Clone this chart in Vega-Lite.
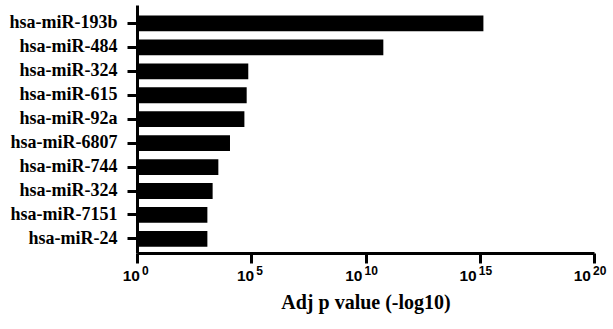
{
  "$schema": "https://vega.github.io/schema/vega-lite/v6.json",
  "autosize": {"type": "none"},
  "padding": {"left": 137, "top": 5, "right": 19, "bottom": 76},
  "width": 457,
  "height": 248,
  "background": "white",
  "datasets": {
    "bars": [
      {"name": "hsa-miR-193b", "value": 1.445e15},
      {"name": "hsa-miR-484", "value": 6.03e10},
      {"name": "hsa-miR-324", "value": 74130},
      {"name": "hsa-miR-615", "value": 63096},
      {"name": "hsa-miR-92a", "value": 50119},
      {"name": "hsa-miR-6807", "value": 11749},
      {"name": "hsa-miR-744", "value": 3631},
      {"name": "hsa-miR-324#2", "value": 2042},
      {"name": "hsa-miR-7151", "value": 1202},
      {"name": "hsa-miR-24", "value": 1202}
    ],
    "ticks": [
      {"tick": 1, "base": "10", "exp": "0"},
      {"tick": 1e5, "base": "10", "exp": "5"},
      {"tick": 1e10, "base": "10", "exp": "10"},
      {"tick": 1e15, "base": "10", "exp": "15"},
      {"tick": 1e20, "base": "10", "exp": "20"}
    ]
  },
  "layer": [
    {
      "data": {"name": "bars"},
      "mark": {"type": "bar", "color": "black"},
      "encoding": {
        "y": {
          "field": "name",
          "type": "nominal",
          "sort": null,
          "scale": {"paddingInner": 0.34, "paddingOuter": 0.35, "align": 0.63},
          "axis": {
            "title": null,
            "labelExpr": "split(datum.label, '#')[0]",
            "labelFont": "Liberation Serif",
            "labelFontWeight": "bold",
            "labelFontSize": 18,
            "labelColor": "black",
            "labelPadding": 10,
            "tickSize": 10,
            "tickWidth": 3,
            "tickColor": "black",
            "domainWidth": 3,
            "domainColor": "black",
            "grid": false
          }
        },
        "x": {
          "field": "value",
          "type": "quantitative",
          "scale": {"type": "log", "domain": [1, 1e20], "nice": false},
          "axis": {
            "title": "Adj p value (-log10)",
            "titleFont": "Liberation Serif",
            "titleFontWeight": "bold",
            "titleFontSize": 20,
            "titleColor": "black",
            "titlePadding": 28,
            "values": [1, 1e5, 1e10, 1e15, 1e20],
            "labels": false,
            "tickSize": 10,
            "tickWidth": 3,
            "tickColor": "black",
            "domainWidth": 3,
            "domainColor": "black",
            "grid": false
          }
        },
        "x2": {"datum": 1}
      }
    },
    {
      "data": {"name": "ticks"},
      "transform": [{"filter": "length(datum.exp) == 1"}],
      "mark": {"type": "text", "align": "right", "baseline": "alphabetic", "font": "Liberation Sans", "fontWeight": "bold", "fontSize": 15.5, "color": "black", "dx": 3, "dy": 42},
      "encoding": {
        "x": {"field": "tick", "type": "quantitative"},
        "y": {"datum": "hsa-miR-24"},
        "text": {"field": "base"}
      }
    },
    {
      "data": {"name": "ticks"},
      "transform": [{"filter": "length(datum.exp) == 1"}],
      "mark": {"type": "text", "align": "left", "baseline": "alphabetic", "font": "Liberation Sans", "fontWeight": "bold", "fontSize": 12, "color": "black", "dx": 5, "dy": 36},
      "encoding": {
        "x": {"field": "tick", "type": "quantitative"},
        "y": {"datum": "hsa-miR-24"},
        "text": {"field": "exp"}
      }
    },
    {
      "data": {"name": "ticks"},
      "transform": [{"filter": "length(datum.exp) == 2"}],
      "mark": {"type": "text", "align": "right", "baseline": "alphabetic", "font": "Liberation Sans", "fontWeight": "bold", "fontSize": 15.5, "color": "black", "dx": -3, "dy": 42},
      "encoding": {
        "x": {"field": "tick", "type": "quantitative"},
        "y": {"datum": "hsa-miR-24"},
        "text": {"field": "base"}
      }
    },
    {
      "data": {"name": "ticks"},
      "transform": [{"filter": "length(datum.exp) == 2"}],
      "mark": {"type": "text", "align": "left", "baseline": "alphabetic", "font": "Liberation Sans", "fontWeight": "bold", "fontSize": 12, "color": "black", "dx": -1, "dy": 36},
      "encoding": {
        "x": {"field": "tick", "type": "quantitative"},
        "y": {"datum": "hsa-miR-24"},
        "text": {"field": "exp"}
      }
    }
  ],
  "config": {"view": {"stroke": null}}
}
